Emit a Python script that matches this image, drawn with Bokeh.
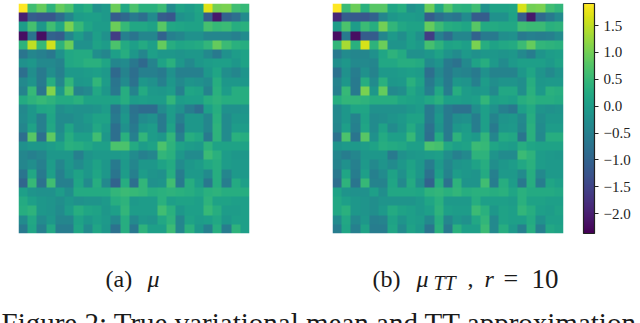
import numpy as np
from bokeh.embed import file_html
from bokeh.layouts import column, row
from bokeh.models import ColorBar, FixedTicker, Label, LinearColorMapper, Range1d
from bokeh.palettes import Viridis256
from bokeh.plotting import figure
from bokeh.resources import INLINE

mu = [
[1.9,.6,.9,.4,.9,.7,.15,.3,-.2,-.05,.95,.2,.7,.35,.35,.55,-.3,.1,0,.15,1.7,1.0,1.05,.6,.5],
[-2.0,-1.1,-1.2,-1.2,-.85,-.4,0,.05,.05,-.05,-1.1,-.9,-.6,-.8,-.3,-1.1,-1.2,-.2,-.1,.1,-1.1,-2.1,-1.0,-.8,-.3],
[0,.65,-.1,.6,.2,1.05,.5,.15,0,0,.95,.5,.2,.2,.1,.8,.2,.15,.1,.1,.65,.5,.55,.3,.35],
[-2.2,-.7,-2.2,-1.0,-1.1,-.4,0,-.3,.05,-.2,-1.6,-.5,-.7,-.4,-.4,-1.0,-.5,-.4,-.2,-.2,-.4,-.4,-.4,-.5,-.3],
[.4,1.5,.5,1.6,.4,.95,-.2,-.2,.1,0,.7,.25,.05,.25,.05,.9,.3,.15,.2,.25,.45,.9,.55,.35,.3],
[-.7,-.4,-.5,-.65,-.2,.2,.25,.25,-.25,-.4,.05,.3,-.1,-.4,.05,-.1,-.1,-.15,-.1,-.1,-.35,-.6,-.2,0,.1],
[-.2,-.1,-.35,-.35,-.45,.2,.25,.35,.35,.15,-.4,-.3,-.65,-.9,-.45,.1,.35,-.1,-.35,-.1,0,.05,.05,-.1,.1],
[-.8,-.25,-.6,-.25,-.5,-.05,-.05,0,.05,-.05,-.9,-.45,-.8,-.5,-.5,-.6,-.2,-.5,-.5,-.5,-.1,.15,-.25,-.4,-.15],
[-.35,-.15,-.6,.3,-.4,.45,-.1,-.05,.45,0,-.7,-.3,-.75,-.1,-.2,-.5,-.1,-.35,-.15,-.2,-.3,.3,-.1,-.1,-.1],
[-.45,.5,-.7,1.1,-.1,.75,-.45,-.35,.2,-.1,-.65,.3,-.45,.25,-.05,-.1,0,-.5,.15,.1,-.45,.35,0,.3,.3],
[.25,.4,.5,.4,.25,.25,.35,.1,.1,.1,.1,.3,0,.05,0,0,.45,0,.05,.05,.3,.4,.3,.3,.3],
[-.35,-.1,.15,.2,-.25,-.15,-.2,-.2,-.15,0,-.7,-.2,-.75,-.85,-.85,-.3,0,-.2,-.55,-.8,.05,.3,-.2,-.2,-.15],
[-.3,-.1,-.5,.15,-.3,-.3,-.2,-.05,.1,.1,-.6,-.1,-.7,-.3,-.2,-.6,0,-.5,-.1,-.1,-.4,.35,-.3,-.1,-.1],
[-.4,.1,-.5,.2,-.3,.15,-.2,-.15,.2,0,-.8,-.2,-.6,-.1,0,-.6,.1,-.7,-.1,-.1,-.4,.4,-.3,0,0],
[-.8,.8,-.8,.85,-.2,.3,.05,.05,.6,-.1,-.8,.35,-.5,.45,0,-.1,.45,-.5,.3,.2,-.6,.4,-.3,.35,.3],
[-.2,-.1,-.1,0,.1,.35,.3,.2,.05,.05,.7,.7,.25,0,.1,.7,.4,.1,0,-.05,.4,.1,.1,.1,.1],
[-.4,-.5,-.4,-.1,-.1,-.1,-.5,-.15,-.05,-.05,-.05,0,-.3,-.5,-.4,.45,.35,-.1,-.3,-.3,.55,.35,0,-.1,-.1],
[-.4,-.25,-.5,0,-.4,-.1,-.3,-.1,.1,-.1,-.6,-.05,-.4,-.1,-.1,.1,.25,-.3,-.1,0,.2,.3,0,-.05,-.05],
[-.7,.2,-.6,.05,-.5,-.15,.1,-.1,.15,-.1,-.7,0,-.5,0,-.15,-.2,.3,-.55,-.05,-.05,-.3,.3,-.4,-.05,-.05],
[-.95,.5,-.75,.6,-.5,-.5,.15,-.3,.3,-.35,-1.0,.3,-.8,.45,-.2,-.15,.6,-.6,.3,0,-.65,.3,-.55,.25,.05],
[.05,-.15,-.2,-.2,0,-.25,.25,.25,.25,.25,.45,.55,.5,.45,.3,.35,.4,.35,.3,.2,.35,.4,.3,.3,.3],
[.25,.05,-.1,-.15,-.25,-.1,-.2,-.15,-.15,-.05,.3,.4,-.05,0,0,.35,.05,.1,.1,.05,.4,.1,.1,.05,.05],
[.3,.4,-.1,-.15,-.3,0,.3,.15,.1,-.1,.05,.45,0,0,0,.6,.35,-.1,.05,.05,.5,.3,0,0,.05],
[-.3,.2,-.3,-.1,-.4,-.4,.1,-.1,.05,-.05,-.35,.3,-.35,-.1,-.15,.2,.4,-.4,.1,0,.05,.2,-.1,.05,.05],
[-.6,.15,-.5,.2,-.55,-.55,.15,-.3,.15,-.1,-.75,.3,-.65,.4,.05,.05,.55,-.4,.35,-.1,-.5,.3,-.55,.4,.05],
]

mu_tt = [
[1.9,.55,.95,.35,.8,.8,.15,.3,-.2,-.05,.95,.2,.75,.4,.35,.6,-.2,.1,.1,.15,1.65,1.0,1.05,.6,.45],
[-1.9,-1.1,-1.15,-1.2,-1.0,-.4,-.1,0,0,-.05,-1.1,-.8,-.6,-.7,-.3,-1.1,-1.1,-.2,-.2,.1,-1.1,-2.1,-.9,-.6,-.3],
[0,.7,0,.55,.3,1.0,.45,.2,.1,.1,.9,.55,.3,.25,.15,.8,.25,.25,.2,.2,.6,.55,.55,.35,.4],
[-2.2,-.6,-2.2,-1.1,-1.1,-.4,-.05,-.25,.05,-.2,-1.6,-.5,-.85,-.4,-.4,-1.0,-.6,-.6,-.25,-.2,-.6,-.5,-.55,-.5,-.3],
[.45,1.35,.35,1.65,.4,.95,-.15,-.15,.05,-.05,.65,.4,.1,.15,.05,1.05,.3,.1,.2,.25,.55,.9,.45,.4,.35],
[-.6,-.3,-.4,-.4,-.2,.15,.4,.25,-.2,-.2,-.1,.1,-.15,-.3,-.05,-.2,-.1,-.1,-.15,-.1,-.35,-.55,-.15,0,.05],
[-.25,-.1,-.35,-.35,-.4,.2,.2,.3,.3,.25,-.3,-.15,-.6,-.75,-.35,.1,.3,-.05,-.3,-.05,.05,.05,.05,-.05,.1],
[-.75,-.2,-.55,-.2,-.45,-.05,-.05,0,.05,0,-.8,-.35,-.65,-.4,-.45,-.6,-.2,-.45,-.45,-.45,-.1,.15,-.15,-.35,-.15],
[-.45,-.1,-.6,.3,-.3,.35,-.1,-.05,.35,.1,-.6,-.2,-.6,-.1,-.15,-.5,0,-.25,-.15,-.15,-.25,.3,-.1,-.05,-.05],
[-.5,.5,-.6,1.05,-.1,.9,-.35,-.25,.2,0,-.5,.2,-.55,.3,0,-.1,-.05,-.35,.2,.2,-.25,.35,-.05,.35,.3],
[.3,.45,.45,.4,.3,.3,.3,.15,.1,.05,.2,.35,.05,.05,0,.05,.45,.05,.1,.05,.3,.4,.3,.3,.25],
[-.35,-.1,.15,.15,-.2,-.2,-.2,-.2,-.1,0,-.6,-.2,-.6,-.75,-.75,-.25,.05,-.2,-.5,-.65,.05,.25,-.15,-.2,-.15],
[-.35,-.1,-.45,.1,-.3,-.25,-.15,-.05,.1,.1,-.6,-.1,-.6,-.25,-.2,-.55,.05,-.45,-.15,-.1,-.35,.3,-.25,-.1,-.1],
[-.4,.05,-.5,.15,-.3,.1,-.3,-.1,.25,-.05,-.75,-.15,-.6,-.1,0,-.55,.05,-.6,-.1,-.05,-.4,.35,-.3,0,0],
[-.75,.7,-.7,.8,-.2,.25,.05,.05,.5,-.05,-.8,.25,-.6,.4,.05,-.05,.45,-.4,.25,.2,-.7,.35,-.35,.3,.3],
[-.15,-.05,-.05,0,.1,.3,.25,.2,.05,.05,.7,.65,.2,.05,.1,.55,.5,.15,.05,0,.3,.15,.1,.1,.1],
[-.4,-.55,-.4,-.1,-.1,-.1,-.6,-.2,-.1,-.05,0,.05,-.25,-.5,-.35,.4,.4,-.15,-.3,-.3,.55,.4,0,-.05,-.1],
[-.45,-.2,-.5,-.05,-.35,-.15,-.3,-.1,.1,-.1,-.55,-.05,-.4,-.15,-.1,.1,.3,-.25,-.1,0,.2,.35,0,-.05,-.05],
[-.65,.15,-.55,.05,-.5,-.3,.1,-.2,.15,-.1,-.75,.05,-.45,0,-.1,-.15,.25,-.5,-.05,-.05,-.3,.3,-.35,-.05,-.05],
[-.8,.4,-.7,.5,-.45,-.45,.15,-.35,.25,-.25,-1.0,.3,-.75,.4,-.15,-.15,.6,-.55,.3,0,-.65,.3,-.55,.15,.05],
[.1,-.15,-.2,-.2,.05,-.25,.2,.2,.2,.15,.4,.45,.35,.45,.3,.35,.35,.3,.35,.15,.35,.25,.25,.25,.2],
[.2,.05,-.1,-.15,-.25,-.15,-.15,-.15,-.15,-.05,.15,.35,-.05,-.05,-.05,.3,.05,.05,.05,0,.35,.1,.1,.05,.05],
[.2,.35,-.1,-.15,-.25,-.05,.25,.1,.05,-.05,.05,.4,.05,0,0,.55,.35,-.1,.1,.05,.45,.3,.05,0,.1],
[-.3,.2,-.35,-.1,-.5,-.45,.1,-.15,.05,0,-.35,.3,-.4,-.1,-.2,.2,.45,-.35,.1,.05,.05,.25,-.2,.05,.05],
[-.55,.15,-.5,.1,-.55,-.55,.15,-.3,.1,-.05,-.7,.35,-.6,.35,.05,.05,.55,-.35,.3,-.05,-.5,.3,-.5,.2,.1],
]

cbar_ticks = [-2.0, -1.5, -1.0, -0.5, 0.0, 0.5, 1.0, 1.5]
cbar_labels = ["\u22122.0", "\u22121.5", "\u22121.0", "\u22120.5", "0.0", "0.5", "1.0", "1.5"]
value_low, value_high = -2.37, 1.91
SERIF = "Liberation Serif"

mapper = LinearColorMapper(palette=Viridis256, low=value_low, high=value_high)


def heatmap(matrix, width, left, right):
    arr = np.array(matrix)[::-1]
    n = arr.shape[0]
    p = figure(width=width, height=240, output_backend="svg", toolbar_location=None,
               x_range=Range1d(0, n), y_range=Range1d(0, n),
               x_axis_type=None, y_axis_type=None,
               min_border_left=left, min_border_right=right,
               min_border_top=3, min_border_bottom=7, outline_line_color=None)
    p.grid.visible = False
    p.image(image=[arr], x=0, y=0, dw=n, dh=n, color_mapper=mapper)
    return p


f1 = heatmap(mu, 290, 18, 41)
f2 = heatmap(mu_tt, 350, 42, 77)
cb = ColorBar(color_mapper=mapper, width=11, padding=0, margin=0, location=(20, 0),
              ticker=FixedTicker(ticks=cbar_ticks),
              major_label_overrides=dict(zip(cbar_ticks, cbar_labels)),
              major_label_text_font=SERIF, major_label_text_font_size="15px",
              major_label_text_color="#222222", label_standoff=5,
              major_tick_in=0, major_tick_out=4, major_tick_line_color="#222222",
              bar_line_color="#222222", bar_line_width=1.2)
f2.add_layout(cb, "right")

cap = figure(width=640, height=83, output_backend="svg", toolbar_location=None,
             x_range=Range1d(0, 640), y_range=Range1d(83, 0),
             x_axis_type=None, y_axis_type=None, min_border=0, outline_line_color=None)
cap.grid.visible = False

caption_runs = [
    ("(a)", 105, 38, 24, "normal"),
    ("\u03bc", 147, 38, 24, "italic"),
    ("(b)", 372, 38, 24, "normal"),
    ("\u03bc", 416, 38, 24, "italic"),
    ("TT", 433, 42, 20, "italic"),
    (",", 467, 38, 24, "normal"),
    ("r", 484, 38, 24, "italic"),
    ("=", 503, 38, 26, "normal"),
    ("10", 531, 38, 27, "normal"),
    ("Figure 2: True variational mean and TT approximation", 1, 82, 29, "normal"),
]
for txt, x, y, size, style in caption_runs:
    cap.add_layout(Label(x=x, y=y, text=txt, text_font=SERIF, text_font_size=f"{size}px",
                         text_font_style=style, text_color="#1a1a1a",
                         text_baseline="alphabetic"))

layout = column(row(f1, f2, spacing=0), cap, spacing=0, margin=0)
open("out.html", "w").write(file_html(layout, INLINE))
